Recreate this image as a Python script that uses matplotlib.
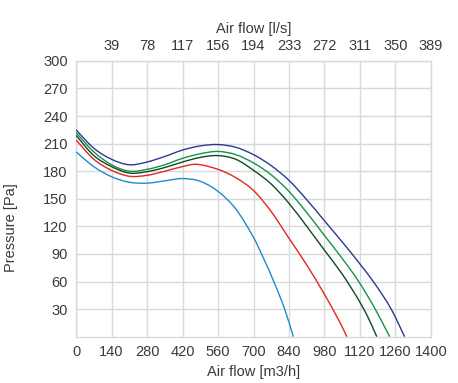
"""
Fan curves: pressure vs air flow, five speed settings.
"""

import numpy as np
import matplotlib.pyplot as plt
from matplotlib.path import Path
from matplotlib.patches import PathPatch

# --- data (x in m3/h, y in Pa) ---
navy_x = [0, 70, 140, 210, 280, 350, 420, 490, 560, 630, 700, 770, 840, 910, 980,
          1050, 1120, 1180, 1243, 1296]
navy_y = [225, 205, 193, 187, 190, 196, 203, 207.5, 209, 206, 198, 186, 170, 149, 126,
          103, 79, 57, 30, 0]

green_x = [0, 70, 140, 210, 280, 350, 420, 490, 560, 630, 700, 770, 840, 910, 980,
           1050, 1115, 1180, 1237]
green_y = [222, 201, 187, 180, 182, 187, 194, 199, 201.5, 198, 189, 176, 158, 135, 110,
           85, 60, 30, 0]

dkgreen_x = [0, 70, 140, 210, 280, 350, 420, 490, 560, 630, 700, 770, 840, 910, 980,
             1050, 1110, 1150, 1186]
dkgreen_y = [219, 197, 185, 178, 179.5, 184, 190, 195, 197, 193, 181, 166, 145, 120, 94,
             68, 42, 22, 0]

red_x = [0, 70, 140, 210, 280, 350, 420, 476, 560, 630, 700, 770, 840, 910, 980,
         1040, 1068]
red_y = [214, 193, 181, 174.5, 175.5, 180, 185, 187.5, 182, 173, 159, 136, 107, 78, 46,
         16, 0]

blue_x = [0, 70, 140, 210, 280, 350, 420, 490, 560, 630, 700, 740, 780, 823, 857]
blue_y = [201, 185, 174, 168, 167, 169.5, 172, 169, 158, 139, 108, 85, 60, 30, 0]

x_ticks = [0, 140, 280, 420, 560, 700, 840, 980, 1120, 1260, 1400]
top_ticks = [140, 280, 420, 560, 700, 840, 980, 1120, 1260, 1400]
top_labels = ["39", "78", "117", "156", "194", "233", "272", "311", "350", "389"]
y_ticks = [30, 60, 90, 120, 150, 180, 210, 240, 270, 300]

series = [
    (navy_x, navy_y, "#2a3a8f"),
    (green_x, green_y, "#16924a"),
    (dkgreen_x, dkgreen_y, "#0d4a2b"),
    (red_x, red_y, "#e0281e"),
    (blue_x, blue_y, "#1e8bd0"),
]


def spline_path(xs, ys):
    # smooth bezier through the read points (like a "spline" series)
    p = np.column_stack([xs, ys]).astype(float)
    n = len(p)
    tang = np.zeros_like(p)
    for i in range(n):
        a = p[max(i - 1, 0)]
        b = p[min(i + 1, n - 1)]
        tang[i] = (b - a) / (b[0] - a[0])
    verts = [p[0]]
    codes = [Path.MOVETO]
    for i in range(n - 1):
        h = (p[i + 1][0] - p[i][0]) / 3.0
        verts += [p[i] + tang[i] * h, p[i + 1] - tang[i + 1] * h, p[i + 1]]
        codes += [Path.CURVE4] * 3
    return Path(verts, codes)


plt.rcParams["font.family"] = ["Liberation Sans", "DejaVu Sans"]
text_col = "#3a3a3a"
grid_col = "#d9d9d9"

fig = plt.figure(figsize=(4.58, 3.83), dpi=100)
ax = fig.add_axes([0.166, 0.121, 0.775, 0.720])

for xs, ys, col in series:
    ax.add_patch(PathPatch(spline_path(xs, ys), facecolor="none", edgecolor=col,
                           linewidth=1.0, zorder=3))

ax.set_xlim(0, 1400)
ax.set_ylim(0, 300)
ax.set_xticks(x_ticks)
ax.set_yticks(y_ticks)
ax.grid(True, color=grid_col, linewidth=1.0)
ax.set_axisbelow(True)
for sp in ax.spines.values():
    sp.set_color(grid_col)
    sp.set_linewidth(1.0)
ax.tick_params(length=0, labelsize=10.5, labelcolor=text_col, pad=6)

ax.set_xlabel("Air flow [m3/h]", fontsize=10.5, color=text_col, labelpad=4)
ax.set_ylabel("Pressure [Pa]", fontsize=10.5, color=text_col)
ax.yaxis.set_label_coords(-0.163, 0.394)

top = ax.secondary_xaxis("top")
top.set_xticks(top_ticks)
top.set_xticklabels(top_labels)
top.tick_params(length=0, labelsize=10.5, labelcolor=text_col, pad=6)
top.spines["top"].set_visible(False)
top.set_xlabel("Air flow [l/s]", fontsize=10.5, color=text_col, labelpad=4)

fig.savefig("out.png", dpi=100)
